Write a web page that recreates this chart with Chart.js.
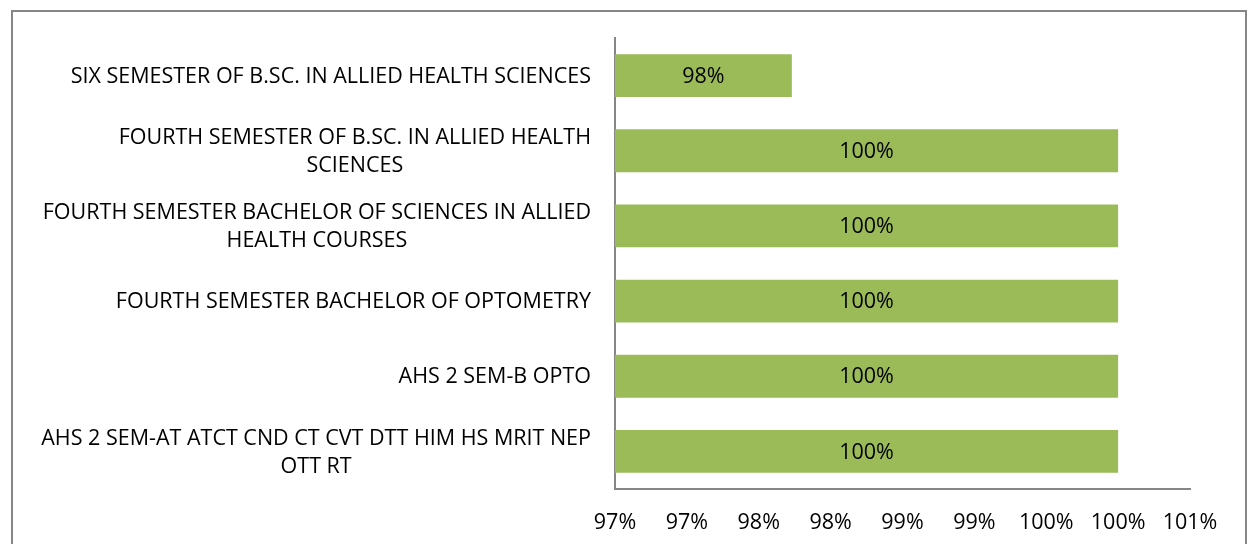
<!DOCTYPE html>
<html>
<head>
<meta charset="utf-8">
<script src="https://cdn.jsdelivr.net/npm/chart.js@4"></script>
<style>
  html, body { margin: 0; padding: 0; background: #fff; }
  #wrap { width: 1249px; height: 544px; }
</style>
</head>
<body>
<div id="wrap"><canvas id="barChart" width="1249" height="544"></canvas></div>
<script>
// Categories, top to bottom
const categories = [
  ['SIX SEMESTER OF B.SC. IN ALLIED HEALTH SCIENCES'],
  ['FOURTH SEMESTER OF B.SC. IN ALLIED HEALTH', 'SCIENCES'],
  ['FOURTH SEMESTER BACHELOR OF SCIENCES IN ALLIED', 'HEALTH COURSES'],
  ['FOURTH SEMESTER BACHELOR OF OPTOMETRY'],
  ['AHS 2 SEM-B OPTO'],
  ['AHS 2 SEM-AT ATCT CND CT CVT DTT HIM HS MRIT NEP', 'OTT RT']
];
const passRate = [97.73, 100, 100, 100, 100, 100];
const xTickLabels = ['97%', '97%', '98%', '98%', '99%', '99%', '100%', '100%', '101%'];

const FONT = '"Open Sans", sans-serif';
const FSIZE = 21.5;
const AXIS_GRAY = '#868686';

// outer frame + category labels (wrapped lines centred on the block, block right-aligned)
const decor = {
  id: 'decor',
  beforeDraw(chart) {
    const ctx = chart.ctx;
    ctx.save();
    ctx.strokeStyle = AXIS_GRAY;
    ctx.lineWidth = 2;
    ctx.strokeRect(12, 11, 1234, 600);
    ctx.restore();
  },
  afterDraw(chart) {
    const ctx = chart.ctx;
    const y = chart.scales.y;
    const x = chart.scales.x;
    ctx.save();
    ctx.font = FSIZE + 'px ' + FONT;
    ctx.fillStyle = '#000';
    ctx.textBaseline = 'middle';
    ctx.textAlign = 'center';
    const right = 591, lh = 28;
    categories.forEach((lines, i) => {
      const cy = y.getPixelForTick(i) + 1;
      const w = Math.max(...lines.map(l => ctx.measureText(l).width));
      const cx = right - w / 2;
      const top = cy - (lines.length - 1) * lh / 2;
      lines.forEach((l, j) => ctx.fillText(l, cx, top + j * lh));
    });
    // value labels centred in bars
    const x0 = x.getPixelForValue(x.min);
    passRate.forEach((v, i) => {
      const mid = (x0 + x.getPixelForValue(v)) / 2;
      ctx.fillText(Math.round(v) + '%', mid, y.getPixelForValue(i) + 1);
    });
    ctx.restore();
  }
};

new Chart(document.getElementById('barChart'), {
  type: 'bar',
  data: {
    labels: categories,
    datasets: [{
      data: passRate,
      backgroundColor: '#9BBB59',
      barPercentage: 0.57,
      categoryPercentage: 1
    }]
  },
  options: {
    indexAxis: 'y',
    responsive: false,
    animation: false,
    layout: { padding: { top: 38, right: 59, bottom: 0, left: 0 } },
    plugins: { legend: { display: false }, tooltip: { enabled: false } },
    scales: {
      x: {
        min: 96.5,
        max: 100.5,
        ticks: {
          stepSize: 0.5,
          padding: 21,
          color: '#000',
          maxRotation: 0,
          autoSkip: false,
          font: { family: FONT, size: FSIZE },
          callback: (v, i) => xTickLabels[i]
        },
        grid: { display: false, drawTicks: false },
        border: { display: true, color: AXIS_GRAY, width: 2 },
        afterFit(scale) { scale.height = 55; }
      },
      y: {
        ticks: { display: false },
        grid: { display: false, drawTicks: false },
        border: { display: true, color: AXIS_GRAY, width: 2 },
        afterFit(scale) { scale.width = 615; }
      }
    }
  },
  plugins: [decor]
});
</script>
</body>
</html>
